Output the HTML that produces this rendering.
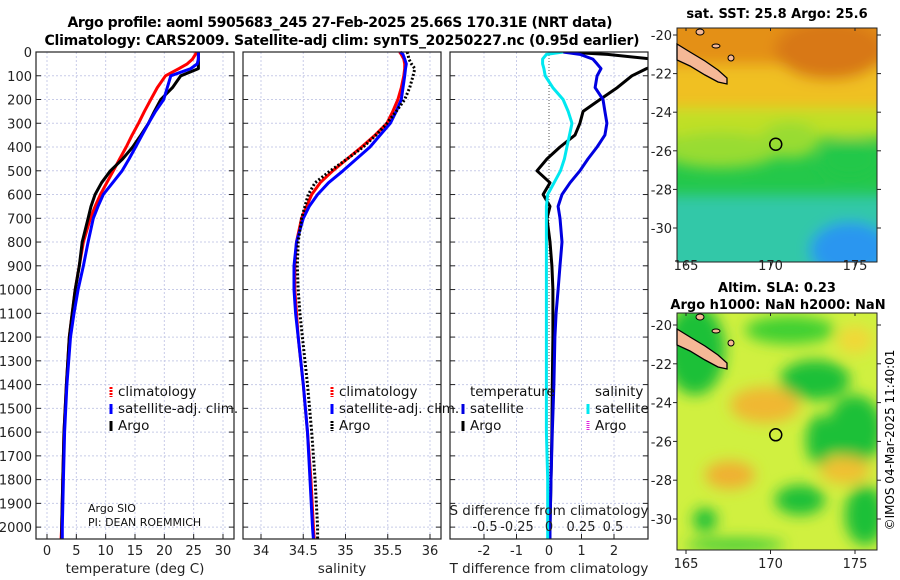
<!DOCTYPE html>
<html><head><meta charset="utf-8"><style>
body{margin:0;background:#fff;}
svg{display:block;font-family:"DejaVu Sans","Liberation Sans",sans-serif;}
</style></head><body>
<svg id="c" width="900" height="580" viewBox="0 0 900 580">
<defs>
<filter id="bl" x="-20%" y="-20%" width="140%" height="140%"><feGaussianBlur stdDeviation="7"/></filter>
<clipPath id="cp1"><rect x="677" y="28" width="200" height="234"/></clipPath>
<clipPath id="cp2"><rect x="677" y="313" width="200" height="237"/></clipPath>
<clipPath id="cp3"><rect x="450" y="52" width="198" height="487"/></clipPath>
</defs>
<text x="340" y="27" text-anchor="middle" font-weight="bold" font-size="14" textLength="545">Argo profile: aoml 5905683_245 27-Feb-2025 25.66S 170.31E (NRT data)</text>
<text x="342" y="45" text-anchor="middle" font-weight="bold" font-size="14" textLength="595">Climatology: CARS2009. Satellite-adj clim: synTS_20250227.nc (0.95d earlier)</text>

<g clip-path="url(#cp1)">
<rect x="677" y="28" width="200" height="234" fill="#24c84a"/>
<g filter="url(#bl)">
<rect x="660" y="195" width="240" height="90" fill="#30c8a8"/>
<ellipse cx="850" cy="250" rx="40" ry="28" fill="#2a96f0"/>
<rect x="660" y="10" width="240" height="110" fill="#f0c020"/>
<rect x="660" y="108" width="240" height="30" fill="#c0e028"/>
<ellipse cx="720" cy="150" rx="60" ry="18" fill="#98dc30"/>
<ellipse cx="790" cy="140" rx="30" ry="18" fill="#98dc30"/>
<rect x="660" y="10" width="240" height="55" fill="#e49018"/>
<ellipse cx="830" cy="50" rx="55" ry="30" fill="#d87812"/>
<ellipse cx="850" cy="160" rx="30" ry="20" fill="#24c84a"/>
</g>
</g>
<rect x="677" y="28" width="200" height="234" fill="none" stroke="#222"/>
<text x="777" y="18" text-anchor="middle" font-weight="bold" font-size="13">sat. SST: 25.8 Argo: 25.6</text>

<g clip-path="url(#cp2)">
<rect x="677" y="313" width="200" height="237" fill="#d0f040"/>
<g filter="url(#bl)">
<ellipse cx="695" cy="350" rx="30" ry="45" fill="#1cc038"/>
<ellipse cx="790" cy="330" rx="45" ry="14" fill="#40d030"/>
<ellipse cx="815" cy="380" rx="35" ry="20" fill="#1cc038"/>
<ellipse cx="855" cy="430" rx="28" ry="35" fill="#1cc038"/>
<ellipse cx="820" cy="440" rx="14" ry="25" fill="#1cc038"/>
<ellipse cx="800" cy="500" rx="25" ry="15" fill="#1cc038"/>
<ellipse cx="865" cy="515" rx="20" ry="30" fill="#1cc038"/>
<ellipse cx="705" cy="520" rx="12" ry="12" fill="#1cc038"/>
<ellipse cx="735" cy="545" rx="50" ry="6" fill="#30c838"/>
<ellipse cx="765" cy="405" rx="35" ry="18" fill="#f0b830"/>
<ellipse cx="730" cy="475" rx="25" ry="14" fill="#f0b030"/>
<ellipse cx="845" cy="470" rx="25" ry="14" fill="#f0c030"/>
<ellipse cx="855" cy="340" rx="18" ry="14" fill="#f0d838"/>
</g>
</g>
<rect x="677" y="313" width="200" height="237" fill="none" stroke="#222"/>
<text x="777" y="292" text-anchor="middle" font-weight="bold" font-size="13">Altim. SLA: 0.23</text>
<text x="778" y="309" text-anchor="middle" font-weight="bold" font-size="13">Argo h1000: NaN h2000: NaN</text>
<text transform="translate(894,440) rotate(-90)" text-anchor="middle" font-size="12">©IMOS 04-Mar-2025 11:40:01</text>
</svg>
<script>
// depth grid (m)
const depths=[0,10,30,50,70,100,150,200,250,300,350,400,450,500,550,600,650,700,800,900,1000,1100,1200,1400,1600,1800,2000,2050];
// temperature (deg C)
const tClim=[25.5,25.3,24.8,23.9,22.5,20.2,18.8,17.7,16.6,15.6,14.5,13.5,12.4,11.3,10.2,9.1,8.2,7.4,6.2,5.5,4.8,4.3,3.8,3.3,2.9,2.7,2.5,2.4];
const tSat=[25.8,25.8,25.8,25.6,24.5,21.1,20.5,19.9,18.5,17.3,16.2,15.1,14.0,12.8,11.2,9.6,8.7,7.9,7.0,6.2,5.3,4.6,4.0,3.4,3.0,2.8,2.6,2.6];
const tArgo=[25.8,25.8,25.8,25.8,25.8,22.8,21.4,19.4,18.3,17.3,16.0,14.6,12.9,10.8,9.3,8.2,7.5,7.0,6.0,5.5,4.8,4.3,3.8,3.3,2.9,2.7,2.5,2.5];
// salinity
const sClim=[35.64,35.66,35.69,35.70,35.70,35.69,35.66,35.62,35.56,35.49,35.35,35.19,35.02,34.85,34.70,34.60,34.54,34.48,34.42,34.40,34.40,34.42,34.44,34.50,34.55,34.59,34.62,34.63];
const sSat=[35.65,35.68,35.70,35.72,35.71,35.70,35.68,35.66,35.60,35.53,35.41,35.29,35.13,34.97,34.80,34.67,34.57,34.50,34.42,34.39,34.39,34.41,34.44,34.50,34.55,34.58,34.61,34.62];
const sArgo=[35.73,35.74,35.75,35.78,35.82,35.80,35.76,35.70,35.60,35.49,35.36,35.21,35.02,34.82,34.64,34.56,34.52,34.48,34.44,34.43,34.44,34.46,34.49,34.55,34.60,34.64,34.67,34.67];
// differences from climatology
const dTSat=[0.43,0.95,1.35,1.48,1.60,1.48,1.42,1.66,1.72,1.78,1.72,1.48,1.20,0.95,0.65,0.40,0.28,0.34,0.40,0.34,0.28,0.22,0.18,0.15,0.10,0.06,0.03,0.03];
const dTArgo=[0.5,1.8,3.2,3.4,3.0,2.55,2.1,1.57,1.05,0.95,0.80,0.34,-0.06,-0.37,0.03,-0.18,0.03,-0.06,0.03,0.09,0.12,0.12,0.12,0.10,0.09,0.06,0.03,0.03];
const dSSat=[0.11,-0.02,-0.05,-0.05,-0.04,-0.03,0.03,0.11,0.15,0.18,0.16,0.14,0.12,0.09,0.04,-0.01,-0.02,-0.02,-0.02,-0.02,-0.02,-0.02,-0.02,-0.02,-0.02,-0.01,-0.01,-0.01];
const depthTicks=[0,100,200,300,400,500,600,700,800,900,1000,1100,1200,1300,1400,1500,1600,1700,1800,1900,2000];
const tTicks=[0,5,10,15,20,25,30];
const sTicks=[34,34.5,35,35.5,36];
const dTTicks=[-2,-1,0,1,2];
const dSTicks=[-0.5,-0.25,0,0.25,0.5];
const lonTicks=[165,170,175];
const latTicks=[-20,-22,-24,-26,-28,-30];
const argoLon=170.31, argoLat=-25.66;

const NS='http://www.w3.org/2000/svg';
const svg=document.getElementById('c');
function el(tag,attrs,parent){const e=document.createElementNS(NS,tag);for(const k in attrs)e.setAttribute(k,attrs[k]);(parent||svg).appendChild(e);return e;}
const Y0=52,Y1=539,DMAX=2050;
const yD=d=>Y0+d/DMAX*(Y1-Y0);
function lin(d0,d1,p0,p1){return v=>p0+(v-d0)/(d1-d0)*(p1-p0);}
const panels=[
 {x0:36,x1:234,sx:lin(0,30,47,223),ticks:tTicks,lab:'temperature (deg C)',name:'temperature-panel'},
 {x0:243,x1:441,sx:lin(34,36,261,430),ticks:sTicks,lab:'salinity',name:'salinity-panel'},
 {x0:450,x1:648,sx:lin(0,2,549,614),ticks:dTTicks,lab:'T difference from climatology',name:'difference-panel'}
];
panels.forEach((p,i)=>{
 const g=el('g',{});
 
 
 p.g=g;
 depthTicks.forEach(d=>{
  const l=el('line',{x1:p.x0,x2:p.x1,y1:yD(d),y2:yD(d),stroke:'#c8cce8','stroke-width':1,'stroke-dasharray':'2,2'},g);
  
  
  el('line',{x1:p.x0,x2:p.x0+5,y1:yD(d),y2:yD(d),stroke:'#222'},g);
  el('line',{x1:p.x1-5,x2:p.x1,y1:yD(d),y2:yD(d),stroke:'#222'},g);
  if(i===0){const t=el('text',{x:32,y:yD(d)+5,'text-anchor':'end','font-size':13,fill:'#222'},g);t.textContent=d;
   
   }
 });
 p.ticks.forEach(v=>{
  const x=p.sx(v);
  if(!(i===2&&v===0)) el('line',{x1:x,x2:x,y1:Y0,y2:Y1,stroke:'#c8cce8','stroke-dasharray':'2,2'},g);
  el('line',{x1:x,x2:x,y1:Y1-5,y2:Y1,stroke:'#222'},g);
  const t=el('text',{x:x,y:555,'text-anchor':'middle','font-size':13,fill:'#222'},g);t.textContent=v;
  
  
 });
 const xl=el('text',{x:(p.x0+p.x1)/2,y:573,'text-anchor':'middle','font-size':13.5,fill:'#222'},g);xl.textContent=p.lab;
 
 
});
function line(p,xs,vals,col,w,dash,clip){
 const pts=vals.map((v,k)=>xs(v).toFixed(1)+','+yD(depths[k]).toFixed(1)).join(' ');
 const a={points:pts,fill:'none',stroke:col,'stroke-width':w,'stroke-linejoin':'round'};
 if(dash)a['stroke-dasharray']=dash;
 if(clip)a['clip-path']='url(#cp3)';
 return el('polyline',a,p.g);
}
const P1=panels[0],P2=panels[1],P3=panels[2];
let l;
l=line(P1,P1.sx,tClim,'#f00',3);
l=line(P1,P1.sx,tArgo,'#000',3);
l=line(P1,P1.sx,tSat,'#00f',3);
l=line(P2,P2.sx,sClim,'#f00',3);
l=line(P2,P2.sx,sSat,'#00f',3);
l=line(P2,P2.sx,sArgo,'#000',3,'2,2');
l=el('line',{x1:P3.sx(0),x2:P3.sx(0),y1:Y0,y2:Y1,stroke:'#555','stroke-dasharray':'1,2'},P3.g);

const sxS=lin(0,0.5,549,613);
l=line(P3,P3.sx,dTArgo,'#000',3,null,true);
l=line(P3,P3.sx,dTSat,'#0000e0',3,null,true);
l=line(P3,sxS,dSSat,'#00e8f0',3,null,true);
dSTicks.forEach(v=>{const t=el('text',{x:sxS(v),y:531,'text-anchor':'middle','font-size':13,fill:'#222'},P3.g);t.textContent=v;
 });
let st=el('text',{x:549,y:515,'text-anchor':'middle','font-size':13.5,fill:'#222'},P3.g);st.textContent='S difference from climatology';

panels.forEach(p=>{const r=el('rect',{x:p.x0,y:Y0,width:p.x1-p.x0,height:Y1-Y0,fill:'none',stroke:'#222','stroke-width':1.2});
 });
function leg(x,y,col,txt,dash,name){
 const g=el('g',{});
 
 
 const a={x1:x,x2:x,y1:y-9,y2:y+1,stroke:col,'stroke-width':3};if(dash)a['stroke-dasharray']=dash;
 el('line',a,g);
 const t=el('text',{x:x+7,y:y,'font-size':13.5,fill:'#111'},g);t.textContent=txt;
}
leg(111,396,'#f00','climatology','2,1','legend-temp-climatology');
leg(111,413,'#00f','satellite-adj. clim.',null,'legend-temp-satellite');
leg(111,430,'#000','Argo',null,'legend-temp-argo');
leg(332,396,'#f00','climatology','2,1','legend-sal-climatology');
leg(332,413,'#00f','satellite-adj. clim.',null,'legend-sal-satellite');
leg(332,430,'#000','Argo','2,1','legend-sal-argo');
let tt=el('text',{x:470,y:396,'font-size':13.5,fill:'#111'});tt.textContent='temperature';

tt=el('text',{x:595,y:396,'font-size':13.5,fill:'#111'});tt.textContent='salinity';

leg(463,413,'#0000e0','satellite',null,'legend-tdiff-satellite');
leg(463,430,'#000','Argo',null,'legend-tdiff-argo');
leg(588,413,'#00e8f0','satellite',null,'legend-sdiff-satellite');
leg(588,430,'#e020e0','Argo','1,1','legend-sdiff-argo');
tt=el('text',{x:88,y:512,'font-size':11,fill:'#111'});tt.textContent='Argo SIO';

tt=el('text',{x:88,y:526,'font-size':11,fill:'#111'});tt.textContent='PI: DEAN ROEMMICH';

const maps=[{y0:28,y1:262,lat20:35,lat30:228,lx:270,name:'sst'},{y0:313,y1:550,lat20:325,lat30:519,lx:568,name:'sla'}];
const lonX=lin(165,175,686,855);
maps.forEach(m=>{
 const latY=lin(-20,-30,m.lat20,m.lat30);
 const g=el('g',{});
 
 
 lonTicks.forEach(v=>{const x=lonX(v);
  el('line',{x1:x,x2:x,y1:m.y1,y2:m.y1+4,stroke:'#222'},g);el('line',{x1:x,x2:x,y1:m.y0,y2:m.y0+3,stroke:'#222'},g);
  const t=el('text',{x:x,y:m.lx,'text-anchor':'middle','font-size':13,fill:'#222'},g);t.textContent=v;
  });
 latTicks.forEach(v=>{const y=latY(v);
  el('line',{x1:677,x2:673,y1:y,y2:y,stroke:'#222'},g);el('line',{x1:877,x2:881,y1:y,y2:y,stroke:'#222'},g);
  const t=el('text',{x:672,y:y+5,'text-anchor':'end','font-size':13,fill:'#222'},g);t.textContent=v;
  });
 const o=m.y0-28;
 const isl=el('polygon',{points:[[677,44],[690,52],[705,61],[718,70],[727,78],[727,84],[718,82],[705,75],[690,66],[677,60]].map(p=>p[0]+','+(p[1]+o)).join(' '),fill:'#f5b896',stroke:'#000','stroke-width':1.3},g);
 
 el('ellipse',{cx:700,cy:32+o,rx:4,ry:3,fill:'#f5b896',stroke:'#000'},g);
 el('ellipse',{cx:716,cy:46+o,rx:4,ry:2,fill:'#f5b896',stroke:'#000'},g);
 el('ellipse',{cx:731,cy:58+o,rx:3,ry:3,fill:'#f5b896',stroke:'#000'},g);
 const c=el('circle',{cx:lonX(argoLon),cy:latY(argoLat),r:6,fill:'none',stroke:'#000','stroke-width':1.5},g);
 
});
</script>
</body></html>
